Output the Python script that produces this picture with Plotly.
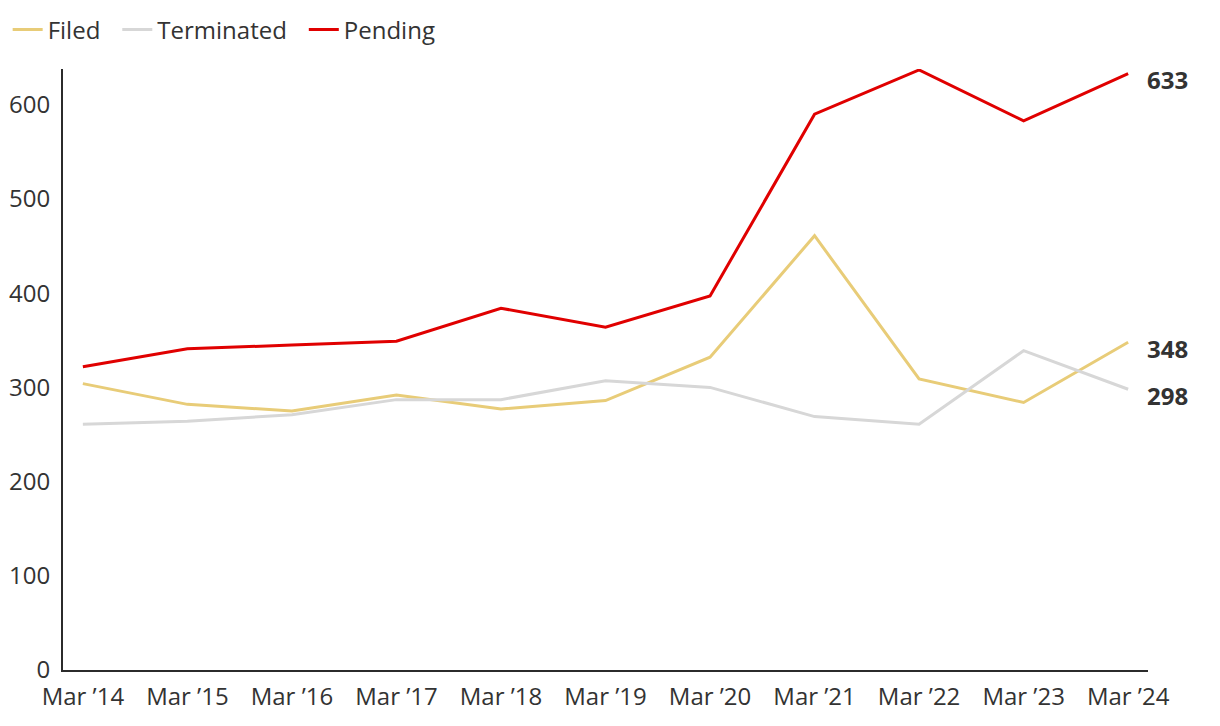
import plotly.graph_objects as go

categories = ["Mar ’14", "Mar ’15", "Mar ’16", "Mar ’17", "Mar ’18", "Mar ’19",
              "Mar ’20", "Mar ’21", "Mar ’22", "Mar ’23", "Mar ’24"]
filed = [304, 282, 275, 292, 277, 286, 332, 461, 309, 284, 348]
terminated = [261, 264, 271, 287, 287, 307, 300, 269, 261, 339, 298]
pending = [322, 341, 345, 349, 384, 364, 397, 590, 637, 583, 633]
y_ticks = [0, 100, 200, 300, 400, 500, 600]

x_idx = list(range(len(categories)))
series = [("Filed", filed, "#E8CC78"), ("Terminated", terminated, "#D7D7D7"), ("Pending", pending, "#E00000")]

PAD = "\u2009\u2009\u2009"
fig = go.Figure()
for name, vals, col in series:
    fig.add_trace(go.Scatter(x=x_idx, y=vals, name=name + PAD, mode="lines",
                             line=dict(color=col, width=3)))
    fig.add_annotation(x=x_idx[-1], y=vals[-1], text=f"<b>{vals[-1]}</b>", showarrow=False,
                       xanchor="left", xshift=17, yshift=-6,
                       font=dict(size=24, color="#333333", family="Open Sans"))

fig.update_layout(
    width=1220, height=726,
    margin=dict(l=63, r=72, t=69, b=56, autoexpand=False),
    paper_bgcolor="white", plot_bgcolor="white",
    font=dict(family="Open Sans", size=24, color="#333333"),
    showlegend=True,
    legend=dict(orientation="h", x=-0.051, xanchor="left", y=1.065, yanchor="middle",
                font=dict(size=24, color="#333333"), bgcolor="rgba(0,0,0,0)"),
    xaxis=dict(tickmode="array", tickvals=x_idx, ticktext=categories,
               range=[-0.19, 10.19], showgrid=False, zeroline=False,
               showline=True, linecolor="#2b2b2b", linewidth=2, ticks="",
               ticklabelstandoff=4, automargin=False),
    yaxis=dict(tickmode="array", tickvals=y_ticks, range=[0, 638],
               showgrid=False, zeroline=False, showline=True,
               linecolor="#2b2b2b", linewidth=2, ticks="", ticklabelstandoff=6,
               automargin=False),
)

fig.write_html("out.html")
